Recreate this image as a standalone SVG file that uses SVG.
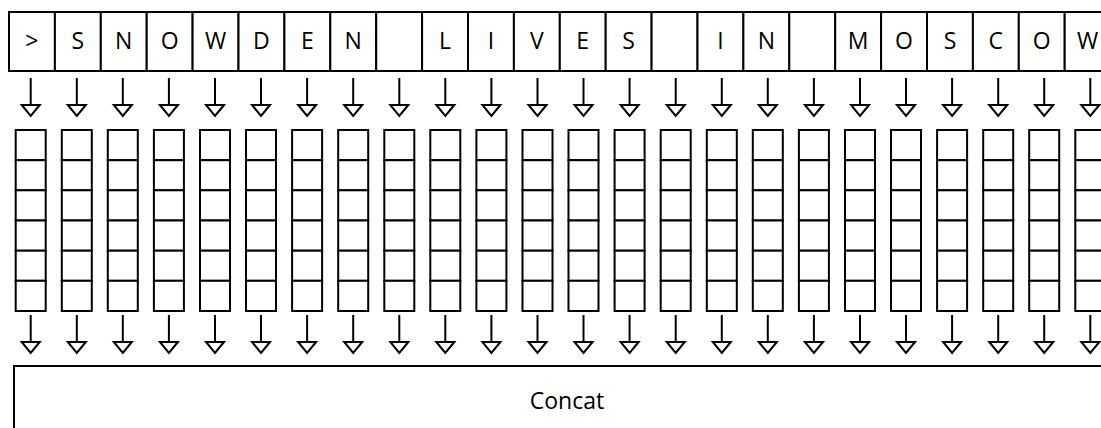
<svg xmlns="http://www.w3.org/2000/svg" xmlns:xlink="http://www.w3.org/1999/xlink" width="1101" height="428" viewBox="0 0 1101 428">
  <style>
    .cell { fill: #ffffff; stroke: #000000; stroke-width: 2; }
    .box { fill: #ffffff; stroke: #000000; stroke-width: 2; }
    .lbl { font-family: "Open Sans", "Noto Sans", "Liberation Sans", sans-serif; font-size: 23px; fill: #000000; text-anchor: middle; }
    .conn { stroke: #000000; stroke-width: 2; fill: none; marker-end: url(#hollow); }
  </style>
  <defs>
    <marker id="hollow" markerUnits="userSpaceOnUse" viewBox="-2 -11 15 22" markerWidth="15" markerHeight="22" refX="0" refY="0" orient="auto" overflow="visible">
      <path d="M0,-9 L11,0 L0,9 Z" fill="#ffffff" stroke="#000000" stroke-width="2" stroke-linejoin="miter"/>
    </marker>
    <!-- one embedding column: six stacked cells -->
    <g id="stack">
      <rect class="cell" x="-15" y="130" width="30" height="30.2"/>
      <rect class="cell" x="-15" y="160.2" width="30" height="30.1"/>
      <rect class="cell" x="-15" y="190.3" width="30" height="30.2"/>
      <rect class="cell" x="-15" y="220.5" width="30" height="30.2"/>
      <rect class="cell" x="-15" y="250.7" width="30" height="30.1"/>
      <rect class="cell" x="-15" y="280.8" width="30" height="30.2"/>
    </g>
  </defs>

  <rect x="0" y="0" width="1101" height="428" fill="#ffffff"/>

  <!-- input characters -->
  <g id="char-0"><rect class="box" x="9" y="12" width="45.9" height="59"/><text class="lbl" x="31.95" y="48.5">&gt;</text></g>
  <g id="char-1"><rect class="box" x="54.9" y="12" width="45.9" height="59"/><text class="lbl" x="77.85" y="48.5">S</text></g>
  <g id="char-2"><rect class="box" x="100.8" y="12" width="45.9" height="59"/><text class="lbl" x="123.75" y="48.5">N</text></g>
  <g id="char-3"><rect class="box" x="146.7" y="12" width="45.9" height="59"/><text class="lbl" x="169.65" y="48.5">O</text></g>
  <g id="char-4"><rect class="box" x="192.6" y="12" width="45.9" height="59"/><text class="lbl" x="215.55" y="48.5">W</text></g>
  <g id="char-5"><rect class="box" x="238.5" y="12" width="45.9" height="59"/><text class="lbl" x="261.45" y="48.5">D</text></g>
  <g id="char-6"><rect class="box" x="284.4" y="12" width="45.9" height="59"/><text class="lbl" x="307.35" y="48.5">E</text></g>
  <g id="char-7"><rect class="box" x="330.3" y="12" width="45.9" height="59"/><text class="lbl" x="353.25" y="48.5">N</text></g>
  <g id="char-8"><rect class="box" x="376.2" y="12" width="45.9" height="59"/></g>
  <g id="char-9"><rect class="box" x="422.1" y="12" width="45.9" height="59"/><text class="lbl" x="445.05" y="48.5">L</text></g>
  <g id="char-10"><rect class="box" x="468" y="12" width="45.9" height="59"/><text class="lbl" x="490.95" y="48.5">I</text></g>
  <g id="char-11"><rect class="box" x="513.9" y="12" width="45.9" height="59"/><text class="lbl" x="536.85" y="48.5">V</text></g>
  <g id="char-12"><rect class="box" x="559.8" y="12" width="45.9" height="59"/><text class="lbl" x="582.75" y="48.5">E</text></g>
  <g id="char-13"><rect class="box" x="605.7" y="12" width="45.9" height="59"/><text class="lbl" x="628.65" y="48.5">S</text></g>
  <g id="char-14"><rect class="box" x="651.6" y="12" width="45.9" height="59"/></g>
  <g id="char-15"><rect class="box" x="697.5" y="12" width="45.9" height="59"/><text class="lbl" x="720.45" y="48.5">I</text></g>
  <g id="char-16"><rect class="box" x="743.4" y="12" width="45.9" height="59"/><text class="lbl" x="766.35" y="48.5">N</text></g>
  <g id="char-17"><rect class="box" x="789.3" y="12" width="45.9" height="59"/></g>
  <g id="char-18"><rect class="box" x="835.2" y="12" width="45.9" height="59"/><text class="lbl" x="858.15" y="48.5">M</text></g>
  <g id="char-19"><rect class="box" x="881.1" y="12" width="45.9" height="59"/><text class="lbl" x="904.05" y="48.5">O</text></g>
  <g id="char-20"><rect class="box" x="927" y="12" width="45.9" height="59"/><text class="lbl" x="949.95" y="48.5">S</text></g>
  <g id="char-21"><rect class="box" x="972.9" y="12" width="45.9" height="59"/><text class="lbl" x="995.85" y="48.5">C</text></g>
  <g id="char-22"><rect class="box" x="1018.8" y="12" width="45.9" height="59"/><text class="lbl" x="1041.75" y="48.5">O</text></g>
  <g id="char-23"><rect class="box" x="1064.7" y="12" width="45.9" height="59"/><text class="lbl" x="1087.65" y="48.5">W</text></g>

  <!-- embedding columns -->
  <g id="emb-0" transform="translate(30.7,0)"><use xlink:href="#stack" href="#stack"/></g>
  <g id="emb-1" transform="translate(76.8,0)"><use xlink:href="#stack" href="#stack"/></g>
  <g id="emb-2" transform="translate(122.8,0)"><use xlink:href="#stack" href="#stack"/></g>
  <g id="emb-3" transform="translate(168.9,0)"><use xlink:href="#stack" href="#stack"/></g>
  <g id="emb-4" transform="translate(215,0)"><use xlink:href="#stack" href="#stack"/></g>
  <g id="emb-5" transform="translate(261,0)"><use xlink:href="#stack" href="#stack"/></g>
  <g id="emb-6" transform="translate(307.1,0)"><use xlink:href="#stack" href="#stack"/></g>
  <g id="emb-7" transform="translate(353.2,0)"><use xlink:href="#stack" href="#stack"/></g>
  <g id="emb-8" transform="translate(399.3,0)"><use xlink:href="#stack" href="#stack"/></g>
  <g id="emb-9" transform="translate(445.3,0)"><use xlink:href="#stack" href="#stack"/></g>
  <g id="emb-10" transform="translate(491.4,0)"><use xlink:href="#stack" href="#stack"/></g>
  <g id="emb-11" transform="translate(537.5,0)"><use xlink:href="#stack" href="#stack"/></g>
  <g id="emb-12" transform="translate(583.5,0)"><use xlink:href="#stack" href="#stack"/></g>
  <g id="emb-13" transform="translate(629.6,0)"><use xlink:href="#stack" href="#stack"/></g>
  <g id="emb-14" transform="translate(675.7,0)"><use xlink:href="#stack" href="#stack"/></g>
  <g id="emb-15" transform="translate(721.8,0)"><use xlink:href="#stack" href="#stack"/></g>
  <g id="emb-16" transform="translate(767.8,0)"><use xlink:href="#stack" href="#stack"/></g>
  <g id="emb-17" transform="translate(813.9,0)"><use xlink:href="#stack" href="#stack"/></g>
  <g id="emb-18" transform="translate(860,0)"><use xlink:href="#stack" href="#stack"/></g>
  <g id="emb-19" transform="translate(906,0)"><use xlink:href="#stack" href="#stack"/></g>
  <g id="emb-20" transform="translate(952.1,0)"><use xlink:href="#stack" href="#stack"/></g>
  <g id="emb-21" transform="translate(998.2,0)"><use xlink:href="#stack" href="#stack"/></g>
  <g id="emb-22" transform="translate(1044.2,0)"><use xlink:href="#stack" href="#stack"/></g>
  <g id="emb-23" transform="translate(1090.3,0)"><use xlink:href="#stack" href="#stack"/></g>

  <!-- concatenation block -->
  <g id="concat">
    <rect class="box" x="14" y="366" width="1110" height="80"/>
    <text class="lbl" x="567" y="408.5">Concat</text>
  </g>

  <!-- arrows: characters to embeddings, embeddings to concat -->
  <g id="connectors">
    <line class="conn" x1="30.7" y1="78" x2="30.7" y2="105"/>
    <line class="conn" x1="76.8" y1="78" x2="76.8" y2="105"/>
    <line class="conn" x1="122.8" y1="78" x2="122.8" y2="105"/>
    <line class="conn" x1="168.9" y1="78" x2="168.9" y2="105"/>
    <line class="conn" x1="215" y1="78" x2="215" y2="105"/>
    <line class="conn" x1="261" y1="78" x2="261" y2="105"/>
    <line class="conn" x1="307.1" y1="78" x2="307.1" y2="105"/>
    <line class="conn" x1="353.2" y1="78" x2="353.2" y2="105"/>
    <line class="conn" x1="399.3" y1="78" x2="399.3" y2="105"/>
    <line class="conn" x1="445.3" y1="78" x2="445.3" y2="105"/>
    <line class="conn" x1="491.4" y1="78" x2="491.4" y2="105"/>
    <line class="conn" x1="537.5" y1="78" x2="537.5" y2="105"/>
    <line class="conn" x1="583.5" y1="78" x2="583.5" y2="105"/>
    <line class="conn" x1="629.6" y1="78" x2="629.6" y2="105"/>
    <line class="conn" x1="675.7" y1="78" x2="675.7" y2="105"/>
    <line class="conn" x1="721.8" y1="78" x2="721.8" y2="105"/>
    <line class="conn" x1="767.8" y1="78" x2="767.8" y2="105"/>
    <line class="conn" x1="813.9" y1="78" x2="813.9" y2="105"/>
    <line class="conn" x1="860" y1="78" x2="860" y2="105"/>
    <line class="conn" x1="906" y1="78" x2="906" y2="105"/>
    <line class="conn" x1="952.1" y1="78" x2="952.1" y2="105"/>
    <line class="conn" x1="998.2" y1="78" x2="998.2" y2="105"/>
    <line class="conn" x1="1044.2" y1="78" x2="1044.2" y2="105"/>
    <line class="conn" x1="1090.3" y1="78" x2="1090.3" y2="105"/>

    <line class="conn" x1="30.7" y1="315" x2="30.7" y2="342"/>
    <line class="conn" x1="76.8" y1="315" x2="76.8" y2="342"/>
    <line class="conn" x1="122.8" y1="315" x2="122.8" y2="342"/>
    <line class="conn" x1="168.9" y1="315" x2="168.9" y2="342"/>
    <line class="conn" x1="215" y1="315" x2="215" y2="342"/>
    <line class="conn" x1="261" y1="315" x2="261" y2="342"/>
    <line class="conn" x1="307.1" y1="315" x2="307.1" y2="342"/>
    <line class="conn" x1="353.2" y1="315" x2="353.2" y2="342"/>
    <line class="conn" x1="399.3" y1="315" x2="399.3" y2="342"/>
    <line class="conn" x1="445.3" y1="315" x2="445.3" y2="342"/>
    <line class="conn" x1="491.4" y1="315" x2="491.4" y2="342"/>
    <line class="conn" x1="537.5" y1="315" x2="537.5" y2="342"/>
    <line class="conn" x1="583.5" y1="315" x2="583.5" y2="342"/>
    <line class="conn" x1="629.6" y1="315" x2="629.6" y2="342"/>
    <line class="conn" x1="675.7" y1="315" x2="675.7" y2="342"/>
    <line class="conn" x1="721.8" y1="315" x2="721.8" y2="342"/>
    <line class="conn" x1="767.8" y1="315" x2="767.8" y2="342"/>
    <line class="conn" x1="813.9" y1="315" x2="813.9" y2="342"/>
    <line class="conn" x1="860" y1="315" x2="860" y2="342"/>
    <line class="conn" x1="906" y1="315" x2="906" y2="342"/>
    <line class="conn" x1="952.1" y1="315" x2="952.1" y2="342"/>
    <line class="conn" x1="998.2" y1="315" x2="998.2" y2="342"/>
    <line class="conn" x1="1044.2" y1="315" x2="1044.2" y2="342"/>
    <line class="conn" x1="1090.3" y1="315" x2="1090.3" y2="342"/>
  </g>
</svg>
